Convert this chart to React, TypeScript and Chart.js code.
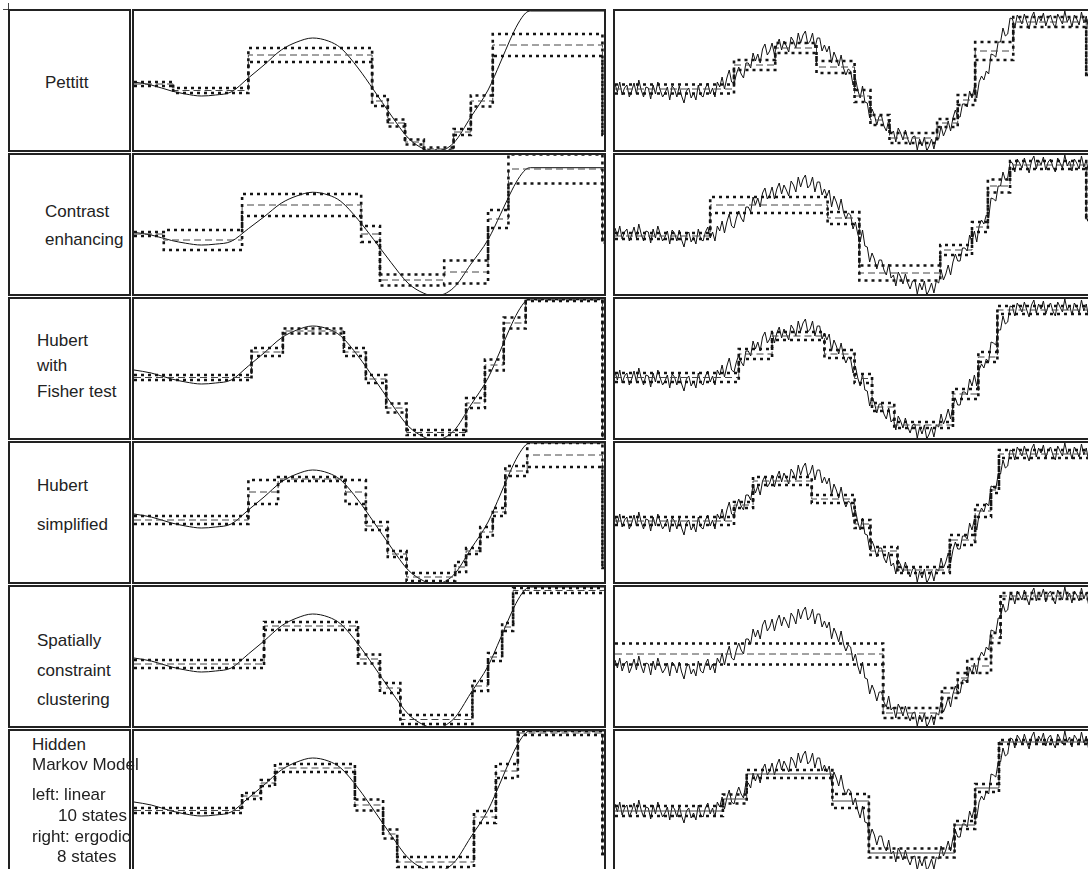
import { useEffect, useRef } from 'react';
import { Chart, registerables } from 'chart.js';

Chart.register(...registerables);

// segment rows: [start, end, mean, half spread] on a 0..300 position axis, heights 0..141
type Seg = [number, number, number, number];

const rowLabels = [
  ['Pettitt'],
  ['Contrast', 'enhancing'],
  ['Hubert', 'with', 'Fisher test'],
  ['Hubert', 'simplified'],
  ['Spatially', 'constraint', 'clustering'],
  ['Hidden', 'Markov Model', 'left: linear', '10 states', 'right: ergodic', '8 states'],
];

// smooth test signal (left column)
const sigX = [0, 11, 24, 33, 43, 52, 62, 73, 83, 94, 104, 114, 124, 132, 143, 153, 164, 175, 185, 192, 204, 215, 226, 234, 240, 245, 250, 253, 300];
const sigY = [70, 67, 61, 58, 56, 57, 60, 74, 87, 102, 110, 114, 111, 104, 84, 62, 37, 14, 3, 0, 9, 35, 62, 90, 112, 128, 139, 141, 141];
const curveScale = [1, 0.91, 1, 1, 1, 1];

// noisy test signal (right column), one sample every 1.5 position units
const NOISE_STEP = 1.5;
const noisyY = [
  68, 60, 70, 57, 64, 67, 55, 61, 69, 58,
  72, 62, 55, 65, 64, 53, 67, 58, 70, 62,
  55, 59, 65, 52, 66, 63, 55, 66, 56, 49,
  61, 64, 54, 59, 52, 67, 57, 55, 64, 69,
  58, 64, 55, 70, 65, 75, 63, 74, 82, 70,
  68, 78, 85, 78, 74, 89, 89, 84, 99, 91,
  98, 89, 103, 108, 97, 101, 109, 97, 107, 113,
  102, 111, 106, 100, 115, 111, 104, 119, 109, 117,
  121, 108, 111, 119, 104, 114, 114, 101, 107, 100,
  106, 89, 100, 94, 86, 97, 84, 77, 83, 81,
  67, 74, 62, 54, 66, 50, 49, 34, 43, 37,
  27, 36, 36, 26, 21, 32, 18, 21, 10, 24,
  19, 12, 22, 13, 7, 15, 16, 2, 13, 6,
  15, 1, 6, 13, 3, 15, 13, 26, 16, 22,
  31, 21, 34, 42, 35, 35, 48, 48, 45, 61,
  54, 65, 54, 70, 76, 72, 81, 78, 98, 97,
  95, 110, 110, 124, 116, 118, 134, 133, 124, 137,
  133, 128, 138, 130, 123, 135, 140, 127, 136, 131,
  139, 126, 134, 137, 129, 124, 138, 133, 128, 141,
  130, 135, 125, 137, 133, 127, 140, 129, 136, 123,
];

const pettittLeft: Seg[] = [[0, 25, 68, 2], [25, 73, 61.5, 2.5], [73, 152, 97, 7], [152, 162, 51, 5], [162, 173, 29, 3.5], [173, 185, 10, 2.5], [185, 204, 3, 1.5], [204, 215, 20, 3], [215, 229, 51, 5.5], [229, 299, 107, 11], [299, 300, 17, 0]];
const pettittRight: Seg[] = [[0, 75, 63, 4.5], [75, 101, 87, 5], [101, 127, 104, 5], [127, 151, 85, 6], [151, 161, 56, 6], [161, 173, 32, 5], [173, 203, 14, 5], [203, 216, 29, 4], [216, 227, 52, 5], [227, 251, 101, 9], [251, 297, 130, 5], [297, 300, 77, 0]];
const contrastLeft: Seg[] = [[0, 19, 62, 2], [19, 69, 56, 10], [69, 145, 91, 11], [145, 157, 62, 8], [157, 198, 16, 5.5], [198, 226, 24, 11.5], [226, 239, 77, 9], [239, 299, 127, 14.5], [299, 300, 53, 0]];
const contrastRight: Seg[] = [[0, 60, 60, 3], [60, 134, 91, 8], [134, 154, 78, 6], [154, 205, 23, 7.5], [205, 225, 46, 5], [225, 235, 69, 5], [235, 249, 110, 6.5], [249, 297, 131, 4], [297, 300, 76, 0]];
const fisherLeft: Seg[] = [[0, 75, 62.5, 2.5], [75, 95, 88, 4], [95, 134, 109, 2.5], [134, 148, 88, 4], [148, 161, 61, 4], [161, 174, 32, 4.5], [174, 212, 7.5, 2.5], [212, 224, 37, 5], [224, 236, 75, 5.5], [236, 250, 117, 5.5], [250, 299, 140, 1], [299, 300, 3, 0]];
const fisherRight: Seg[] = [[0, 78, 62.5, 4.5], [78, 99, 86, 5], [99, 132, 104, 4], [132, 151, 86, 4], [151, 162, 61.5, 4.5], [162, 176, 33, 4], [176, 213, 15, 3], [213, 229, 46, 5], [229, 241, 83, 5], [241, 300, 130, 4]];
const simpleLeft: Seg[] = [[0, 73, 64, 4], [73, 92, 92, 12], [92, 135, 105, 2], [135, 148, 92, 12], [148, 162, 58, 4], [162, 174, 30, 3], [174, 205, 7, 4], [205, 212, 17, 5], [212, 221, 33, 3], [221, 229, 52, 5], [229, 237, 72, 4], [237, 251, 113, 5], [251, 299, 129, 12], [299, 300, 16, 0]];
const simpleRight: Seg[] = [[0, 75, 63, 4], [75, 87, 79, 3], [87, 124, 103, 4], [124, 151, 85, 4], [151, 161, 60, 4], [161, 178, 33, 4], [178, 211, 14, 3], [211, 227, 44, 5], [227, 237, 73, 6], [237, 242, 94, 3], [242, 300, 130, 4]];
const spatialLeft: Seg[] = [[0, 83, 64, 4], [83, 143, 102, 4], [143, 157, 69, 4.5], [157, 170, 40, 5], [170, 216, 8.5, 4.5], [216, 226, 42, 5], [226, 235, 71, 4], [235, 242, 101, 4], [242, 300, 137.5, 2.5]];
const spatialRight: Seg[] = [[0, 169, 74, 10.5], [169, 206, 15, 5], [206, 216, 35, 5], [216, 222, 50, 5], [222, 237, 62, 7], [237, 243, 90, 5], [243, 300, 132, 3]];
const hmmLeft: Seg[] = [[0, 69, 61.5, 2.5], [69, 81, 76, 3], [81, 90, 89, 3], [90, 141, 104, 4], [141, 159, 67, 5.5], [159, 168, 38, 4.5], [168, 217, 10, 5], [217, 231, 55, 6], [231, 245, 101, 7], [245, 299, 139, 2], [299, 300, 18, 0]];
const hmmRight: Seg[] = [[0, 68, 61, 5], [68, 83, 73, 4.5], [83, 137, 98, 4], [137, 160, 71, 7], [160, 214, 19, 4.5], [214, 227, 47, 4], [227, 242, 84, 4], [242, 300, 130, 2]];

const leftSegs = [pettittLeft, contrastLeft, fisherLeft, simpleLeft, spatialLeft, hmmLeft];
const rightSegs = [pettittRight, contrastRight, fisherRight, simpleRight, spatialRight, hmmRight];

// layout
const ROW_TOP = 9;
const ROW_PITCH = 144;
const CELL_H = 143;
const labelPos = [
  [[45, 74]],
  [[45, 59], [45, 87]],
  [[37, 44], [37, 69], [37, 95]],
  [[37, 45], [37, 84]],
  [[37, 56], [37, 86], [37, 115]],
  [[32, 16], [32, 36], [32, 66], [58, 87], [32, 108], [57, 128]],
];

function stepPoints(segs: Seg[], pick: (s: Seg) => number) {
  const pts = segs.map((s) => ({ x: s[0], y: pick(s) }));
  const last = segs[segs.length - 1];
  pts.push({ x: last[1], y: pick(last) });
  return pts;
}

function Panel({ row, side, width }: { row: number; side: 'left' | 'right'; width: number }) {
  const canvasRef = useRef<HTMLCanvasElement>(null);

  useEffect(() => {
    if (!canvasRef.current) return;
    const segs = side === 'left' ? leftSegs[row] : rightSegs[row];
    const scale = side === 'left' ? curveScale[row] : 1;
    const solidMean = side === 'right' && row === 5;
    const curve = side === 'left'
      ? sigX.map((x, i) => ({ x, y: sigY[i] }))
      : noisyY.map((y, i) => ({ x: i * NOISE_STEP, y }));
    const bound = {
      stepped: true as const,
      borderColor: '#141414',
      borderWidth: 2.6,
      borderDash: [3, 4],
      borderCapStyle: 'butt' as const,
      pointRadius: 0,
      clip: 4,
    };
    const chart = new Chart(canvasRef.current, {
      type: 'line',
      data: {
        datasets: [
          { ...bound, data: stepPoints(segs, (s) => s[2] + s[3]) },
          { ...bound, data: stepPoints(segs, (s) => s[2] - s[3]) },
          {
            data: stepPoints(segs, (s) => s[2]),
            stepped: true,
            borderColor: '#444',
            borderWidth: 1,
            borderDash: solidMean ? [] : [7, 4],
            pointRadius: 0,
            clip: 4,
          },
          {
            data: curve,
            yAxisID: 'ys',
            borderColor: '#111',
            borderWidth: 1,
            pointRadius: 0,
            tension: side === 'left' ? 0.4 : 0,
            cubicInterpolationMode: side === 'left' ? 'monotone' : 'default',
            clip: 4,
          },
        ],
      },
      options: {
        animation: false,
        responsive: false,
        events: [],
        layout: { padding: 0 },
        plugins: { legend: { display: false }, tooltip: { enabled: false } },
        scales: {
          x: { type: 'linear', min: 0, max: 300, display: false },
          y: { min: 2, max: 141, display: false },
          ys: { min: 2 / scale, max: 141 / scale, display: false },
        },
      },
    });
    return () => { chart.destroy(); };
  }, [row, side]);

  return <canvas ref={canvasRef} width={width} height={CELL_H - 4} style={{ display: 'block' }} />;
}

const cell = (left: number, top: number, width: number): React.CSSProperties => ({
  position: 'absolute',
  left,
  top,
  width,
  height: CELL_H,
  border: '2px solid #222',
  boxSizing: 'border-box',
});

export default function App() {
  return (
    <div style={{ position: 'absolute', left: 0, top: 0, width: 1088, height: 869, overflow: 'hidden', background: '#fff' }}>
      <style>{'html,body{margin:0;overflow:hidden;background:#fff}'}</style>
      <div style={{ position: 'absolute', left: 3, top: 9, width: 6, height: 1, background: '#444' }} />
      <div style={{ position: 'absolute', left: 8, top: 3, width: 1, height: 7, background: '#444' }} />
      {rowLabels.map((lines, r) => {
        const top = ROW_TOP + r * ROW_PITCH;
        return (
          <div key={r}>
            <div style={cell(8, top, 123)} />
            <div style={cell(132, top, 474)}>
              <Panel row={r} side="left" width={470} />
            </div>
            <div style={cell(613, top, 480)}>
              <Panel row={r} side="right" width={476} />
            </div>
            {lines.map((t, i) => (
              <div
                key={i}
                style={{
                  position: 'absolute',
                  left: labelPos[r][i][0],
                  top: top + labelPos[r][i][1] - 10,
                  lineHeight: '20px',
                  fontFamily: '"Liberation Sans", Arial, sans-serif',
                  fontSize: 17,
                  color: '#222',
                  whiteSpace: 'nowrap',
                }}
              >
                {t}
              </div>
            ))}
          </div>
        );
      })}
    </div>
  );
}
